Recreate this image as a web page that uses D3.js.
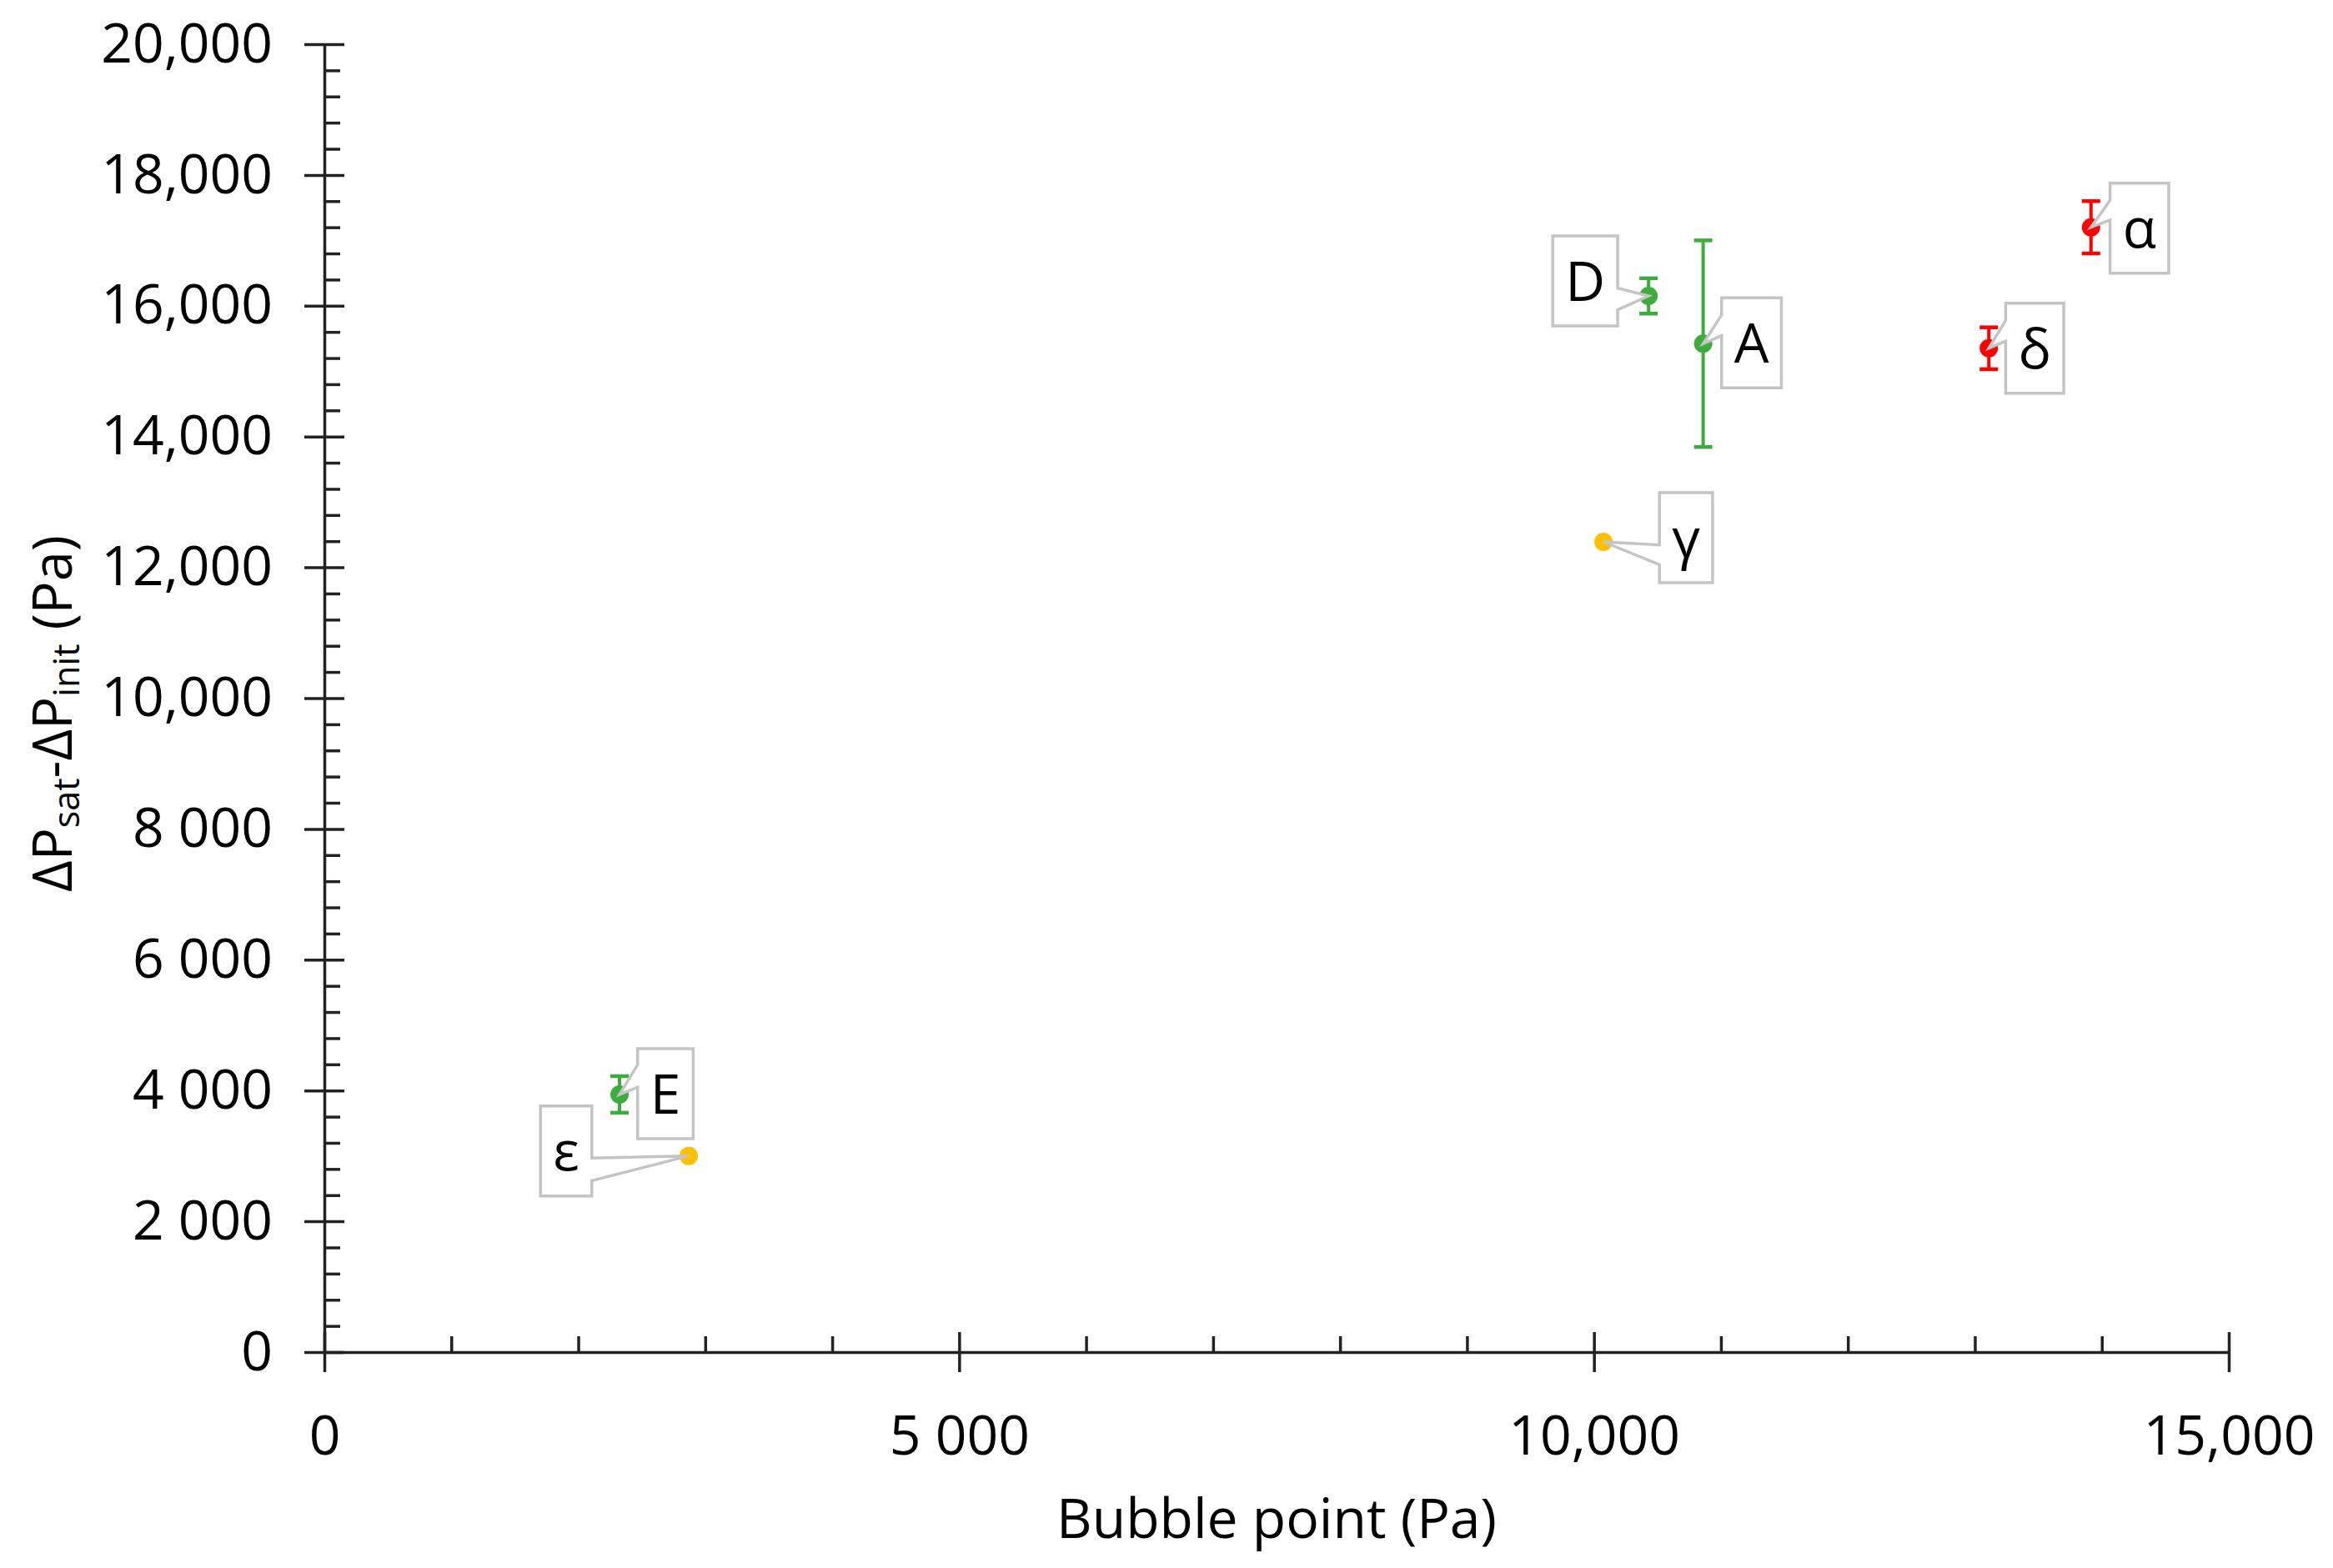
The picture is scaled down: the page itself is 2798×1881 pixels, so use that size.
<!DOCTYPE HTML>
<html lang="en">

    <head>
        <meta charset="utf-8" />
        <title>Bubble point scatter</title>
        <style>
            body { margin: 0; background: #fff; }
            text { font-family: 'Open Sans', sans-serif; }
        </style>
    </head>

    <body>
        <div id="chart"></div>
        <script type="text/javascript" src="https://d3js.org/d3.v7.min.js"></script>
        <script>
            // samples
            const labels = ['α', 'δ', 'D', 'A', 'γ', 'E', 'ε'];
            const bubblePoint = [13915, 13110, 10430, 10860, 10075, 2325, 2870];
            const deltaP = [17200, 15350, 16150, 15420, 12390, 3940, 3000];
            const deltaPErr = [400, 320, 270, 1580, 0, 280, 0];
            const groups = ['red', 'red', 'green', 'green', 'yellow', 'green', 'yellow'];

            const xTickValues = [0, 5000, 10000, 15000];
            const xTickLabels = ['0', '5 000', '10,000', '15,000'];
            const yTickValues = [0, 2000, 4000, 6000, 8000, 10000, 12000, 14000, 16000, 18000, 20000];
            const yTickLabels = ['0', '2 000', '4 000', '6 000', '8 000', '10,000',
                '12,000', '14,000', '16,000', '18,000', '20,000'];

            // callout placement (box centre offset from the point, wedge side and attach fractions)
            const calloutDx = [58, 55, -76, 58, 99, 55, -147];
            const calloutDy = [1, 0, -18, -1, -5, -1, -6];
            const calloutSide = ['left', 'left', 'right', 'left', 'left', 'left', 'right'];
            const calloutF1 = [0.19, 0.19, 0.58, 0.19, 0.58, 0.18, 0.58];
            const calloutF2 = [0.41, 0.42, 0.82, 0.42, 0.80, 0.43, 0.83];

            const colors = { red: '#ff0000', green: '#3dab3d', yellow: '#ffc000' };

            const width = 2798;
            const height = 1881;
            const fontSize = 66;
            const axisColor = '#222';

            const svg = d3.select('#chart')
                .append('svg')
                .attr('width', width)
                .attr('height', height);

            svg.append('rect')
                .attr('width', width)
                .attr('height', height)
                .attr('fill', '#fff');

            const x = d3.scaleLinear().domain([0, 15000]).range([389, 2673]);
            const y = d3.scaleLinear().domain([0, 20000]).range([1622, 53]);

            const styleAxis = g => {
                g.attr('font-family', null).attr('font-size', null);
                g.select('.domain').attr('stroke', axisColor).attr('stroke-width', 3.5);
                g.selectAll('.tick line').attr('stroke', axisColor).attr('stroke-width', 3.5);
                g.selectAll('.tick text')
                    .attr('fill', '#000')
                    .style('font-size', fontSize + 'px');
            };

            // minor ticks
            const xMinor = d3.range(0, 15001, 1000).filter(d => d % 5000 !== 0);
            const yMinor = d3.range(0, 20001, 400).filter(d => d % 2000 !== 0);

            svg.append('g')
                .attr('transform', `translate(0, ${y(0)})`)
                .call(d3.axisBottom(x).tickValues(xMinor).tickSize(-19).tickFormat(''))
                .call(styleAxis)
                .call(g => g.select('.domain').remove());

            svg.append('g')
                .attr('transform', `translate(${x(0)}, 0)`)
                .call(d3.axisLeft(y).tickValues(yMinor).tickSize(-19).tickFormat(''))
                .call(styleAxis)
                .call(g => g.select('.domain').remove());

            // major axes, ticks cross the line
            const gx = svg.append('g')
                .attr('transform', `translate(0, ${y(0)})`)
                .call(d3.axisBottom(x)
                    .tickValues(xTickValues)
                    .tickSizeOuter(0)
                    .tickSizeInner(24)
                    .tickFormat((d, i) => xTickLabels[i]))
                .call(styleAxis);
            gx.selectAll('.tick line').attr('y1', -24);
            gx.selectAll('.tick text').attr('y', 76).attr('dy', '0.71em');

            const gy = svg.append('g')
                .attr('transform', `translate(${x(0)}, 0)`)
                .call(d3.axisLeft(y)
                    .tickValues(yTickValues)
                    .tickSizeOuter(0)
                    .tickSizeInner(24)
                    .tickFormat((d, i) => yTickLabels[i]))
                .call(styleAxis);
            gy.selectAll('.tick line').attr('x1', 24);
            gy.selectAll('.tick text').attr('x', -62);

            // axis titles
            svg.append('text')
                .attr('x', (x.range()[0] + x.range()[1]) / 2)
                .attr('y', 1845)
                .attr('text-anchor', 'middle')
                .style('font-size', '66px')
                .text('Bubble point (Pa)');

            const yTitle = svg.append('text')
                .attr('transform', 'translate(86, 856) rotate(-90)')
                .attr('text-anchor', 'middle')
                .style('font-size', '65px');
            yTitle.append('tspan').text('ΔP');
            yTitle.append('tspan').attr('baseline-shift', '-22%').style('font-size', '43px').text('sat');
            yTitle.append('tspan').text('-ΔP');
            yTitle.append('tspan').attr('baseline-shift', '-22%').style('font-size', '43px').text('init');
            yTitle.append('tspan').text(' (Pa)');

            const idx = d3.range(labels.length);

            // error bars
            const errG = svg.append('g');
            idx.filter(i => deltaPErr[i] > 0).forEach(i => {
                const px = x(bubblePoint[i]);
                const top = y(deltaP[i] + deltaPErr[i]);
                const bot = y(deltaP[i] - deltaPErr[i]);
                const c = colors[groups[i]];
                errG.append('line')
                    .attr('x1', px).attr('x2', px).attr('y1', top).attr('y2', bot)
                    .attr('stroke', c).attr('stroke-width', 4);
                [top, bot].forEach(v => {
                    errG.append('line')
                        .attr('x1', px - 11).attr('x2', px + 11).attr('y1', v).attr('y2', v)
                        .attr('stroke', c).attr('stroke-width', 4.5);
                });
            });

            // points
            svg.append('g')
                .selectAll('circle')
                .data(idx)
                .enter()
                .append('circle')
                .attr('cx', i => x(bubblePoint[i]))
                .attr('cy', i => y(deltaP[i]))
                .attr('r', 11)
                .attr('fill', i => colors[groups[i]]);

            // callouts
            const calloutG = svg.append('g');
            idx.forEach(i => {
                const px = x(bubblePoint[i]);
                const py = y(deltaP[i]);
                const cx = px + calloutDx[i];
                const cy = py + calloutDy[i];
                const g = calloutG.append('g');
                const path = g.append('path');
                const t = g.append('text')
                    .attr('x', cx)
                    .attr('y', cy)
                    .attr('dy', '0.36em')
                    .attr('text-anchor', 'middle')
                    .style('font-size', fontSize + 'px')
                    .attr('fill', '#000')
                    .text(labels[i]);
                const w = t.node().getComputedTextLength() + 30;
                const h = 108;
                const x0 = cx - w / 2, x1 = cx + w / 2, y0 = cy - h / 2, y1 = cy + h / 2;
                const a1 = y0 + calloutF1[i] * h, a2 = y0 + calloutF2[i] * h;
                let d;
                if (calloutSide[i] === 'left') {
                    d = `M${x0},${y0}H${x1}V${y1}H${x0}V${a2}L${px},${py}L${x0},${a1}Z`;
                } else {
                    d = `M${x0},${y0}H${x1}V${a1}L${px},${py}L${x1},${a2}V${y1}H${x0}Z`;
                }
                path.attr('d', d)
                    .attr('fill', '#fff')
                    .attr('stroke', '#c4c4c4')
                    .attr('stroke-width', 3.5)
                    .attr('stroke-linejoin', 'miter');
            });
        </script>
    </body>

</html>
